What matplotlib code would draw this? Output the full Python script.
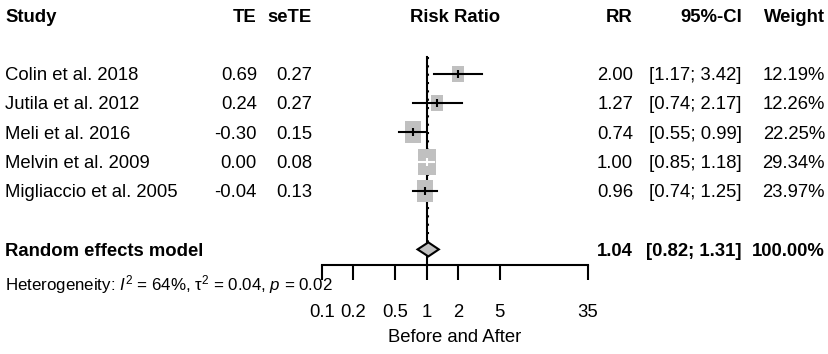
import numpy as np
import matplotlib
matplotlib.use("Agg")
import matplotlib.pyplot as plt
from matplotlib import font_manager
from matplotlib.path import Path
from matplotlib.ticker import NullLocator
from matplotlib.transforms import blended_transform_factory

# ---- data
studies = ["Colin et al. 2018", "Jutila et al. 2012", "Meli et al. 2016",
           "Melvin et al. 2009", "Migliaccio et al. 2005"]
te = [0.69, 0.24, -0.30, 0.00, -0.04]
sete = [0.27, 0.27, 0.15, 0.08, 0.13]
rr = [2.00, 1.27, 0.74, 1.00, 0.96]
ci_low = [1.17, 0.74, 0.55, 0.85, 0.74]
ci_high = [3.42, 2.17, 0.99, 1.18, 1.25]
weight = [12.19, 12.26, 22.25, 29.34, 23.97]

pooled_label = "Random effects model"
pooled_rr = 1.04
pooled_low = 0.82
pooled_high = 1.31
pooled_weight = 100.00
het_text = r"Heterogeneity: $I^2$ = 64%, τ$^2$ = 0.04, $p$ = 0.02"

headers = ["Study", "TE", "seTE", "Risk Ratio", "RR", "95%-CI", "Weight"]
xticks = [0.1, 0.2, 0.5, 1, 2, 5, 35]
xtick_labels = ["0.1", "0.2", "0.5", "1", "2", "5", "35"]
xlabel = "Before and After"

# ---- font: narrow sans looks closest to the stretched R output
try:
    font_manager.findfont("Liberation Sans Narrow", fallback_to_default=False)
    FAMILY, FS, FS_HET = "Liberation Sans Narrow", 16.1, 14.8
except ValueError:
    FAMILY, FS, FS_HET = "Liberation Sans", 13.3, 12.2
plt.rcParams["font.family"] = [FAMILY, "DejaVu Sans"]
plt.rcParams["mathtext.fontset"] = "custom"
plt.rcParams["mathtext.rm"] = FAMILY
plt.rcParams["mathtext.it"] = FAMILY + ":italic"
plt.rcParams["mathtext.bf"] = FAMILY + ":bold"

PX, PY = 829, 354
ROW0, ROWH = 15, 29.3      # pixel y of header row, pixel height of a row
GREY = "#c0c0c0"
LW = 1.5

fig = plt.figure(figsize=(PX / 100, PY / 100), dpi=100)
ax = fig.add_axes([322 / PX, 0, (588 - 322) / PX, 1])
ax.set_xscale("log")
ax.set_xlim(0.1, 35)
ax.set_ylim((PY - ROW0) / ROWH, -ROW0 / ROWH)
ax.patch.set_visible(False)

study_rows = np.arange(len(studies)) + 2
pooled_row = 8
axis_row = 8.53
top_row = 1.43

# reference line at 1 and dotted line at pooled estimate
ax.plot([1, 1], [top_row, axis_row], color="black", lw=LW, zorder=1)
ax.plot([pooled_rr, pooled_rr], [top_row, pooled_row - 0.24], color="black",
        lw=LW, dashes=(1, 3), zorder=1)

# squares, area ~ weight, a bit taller than wide like the original
ASPECT = 1.35
box = Path([(-1 / ASPECT, -1), (1 / ASPECT, -1), (1 / ASPECT, 1), (-1 / ASPECT, 1), (0, 0)],
           [Path.MOVETO, Path.LINETO, Path.LINETO, Path.LINETO, Path.CLOSEPOLY])
fig.canvas.draw()
for i in range(len(studies)):
    width_px = 3.45 * np.sqrt(weight[i])
    ax.plot(rr[i], study_rows[i], marker=box, ms=width_px * ASPECT * 0.72,
            color=GREY, mew=0, ls="none", zorder=3)
    # CI drawn white when it sits entirely inside the square
    cx = ax.transData.transform((rr[i], 0))[0]
    lo = ax.transData.transform((ci_low[i], 0))[0]
    hi = ax.transData.transform((ci_high[i], 0))[0]
    col = "white" if (cx - lo) < width_px / 2 and (hi - cx) < width_px / 2 else "black"
    ax.plot([ci_low[i], ci_high[i]], [study_rows[i]] * 2, color=col, lw=LW, zorder=4)
    ax.plot(rr[i], study_rows[i], marker="|", ms=6, mew=LW, color=col, zorder=5)

ax.fill([pooled_low, pooled_rr, pooled_high, pooled_rr],
        [pooled_row, pooled_row - 0.24, pooled_row, pooled_row + 0.24],
        facecolor=GREY, edgecolor="black", lw=LW, zorder=4)

for s in ["top", "right", "left"]:
    ax.spines[s].set_visible(False)
ax.spines["bottom"].set_position(("data", axis_row))
ax.spines["bottom"].set_linewidth(LW)
ax.set_xticks(xticks, xtick_labels)
ax.xaxis.set_minor_locator(NullLocator())
ax.tick_params(axis="x", direction="out", length=10.8, width=LW, pad=17, labelsize=FS)
ax.set_yticks([])

# ---- text columns (x in figure pixels, y in rows)
tr = blended_transform_factory(fig.transFigure, ax.transData)
def put(x, row, s, ha, bold=False, size=FS):
    ax.text(x / PX, row, s, transform=tr, ha=ha, va="center_baseline", fontsize=size,
            fontweight="bold" if bold else "normal")

cols = [(5, "left"), (257, "right"), (312, "right"), (455, "center"),
        (633, "right"), (742, "right"), (825, "right")]
for (x, ha), h in zip(cols, headers):
    put(x, 0, h, ha, bold=True)

for i, row in enumerate(study_rows):
    put(5, row, studies[i], "left")
    put(257, row, f"{te[i]:.2f}", "right")
    put(312, row, f"{sete[i]:.2f}", "right")
    put(633, row, f"{rr[i]:.2f}", "right")
    put(742, row, f"[{ci_low[i]:.2f}; {ci_high[i]:.2f}]", "right")
    put(825, row, f"{weight[i]:.2f}%", "right")

put(5, pooled_row, pooled_label, "left", bold=True)
put(633, pooled_row, f"{pooled_rr:.2f}", "right", bold=True)
put(742, pooled_row, f"[{pooled_low:.2f}; {pooled_high:.2f}]", "right", bold=True)
put(825, pooled_row, f"{pooled_weight:.2f}%", "right", bold=True)
put(5, 9.1, het_text, "left", size=FS_HET)
put(455, 10.95, xlabel, "center")

fig.savefig("out.png", dpi=100)
